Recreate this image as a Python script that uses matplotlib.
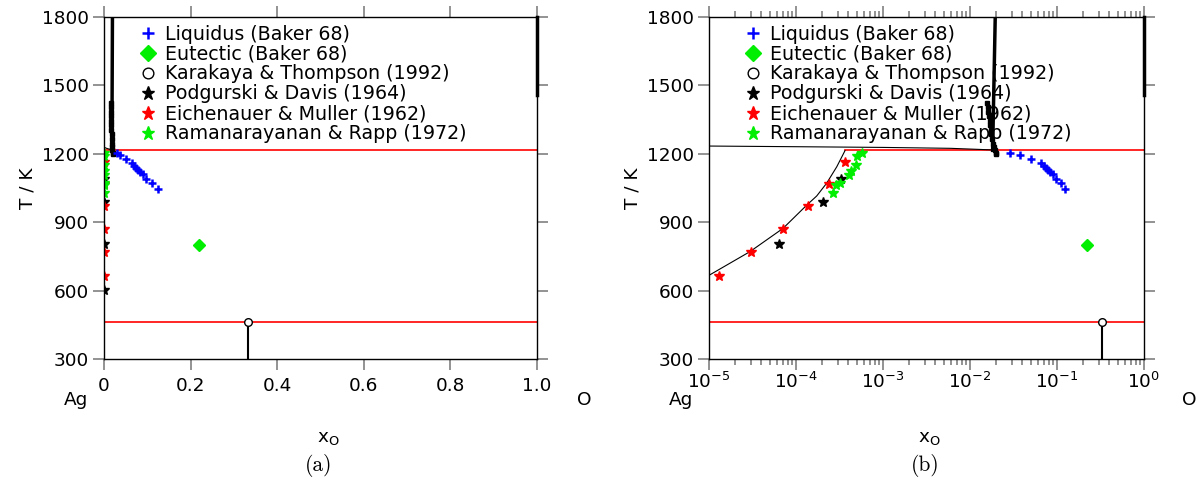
import matplotlib
matplotlib.use('Agg')
import matplotlib.pyplot as plt
from matplotlib.ticker import LogLocator, NullFormatter, LogFormatterSciNotation

plt.rcParams['font.family'] = ['DejaVu Sans']
plt.rcParams['mathtext.fontset'] = 'dejavusans'

FS = 13.3
LFS = 13.7

# Liquidus (Baker 68)
liq_x = [0.029, 0.038, 0.050, 0.065, 0.070, 0.074, 0.078, 0.082, 0.089, 0.098, 0.110, 0.125]
liq_T = [1203, 1194, 1177, 1158, 1148, 1139, 1131, 1122, 1112, 1088, 1070, 1045]
# Eutectic (Baker 68)
eut_x = [0.22]
eut_T = [802]
# Karakaya & Thompson (1992)
kar_x = [0.333]
kar_T = [463]
# Podgurski & Davis (1964)
pod_x = [5e-6, 6.4e-5, 2.06e-4, 3.3e-4]
pod_T = [603, 804, 989, 1089]
# Eichenauer & Muller (1962)
eic_x = [1.3e-5, 3.0e-5, 7.0e-5, 1.37e-4, 2.4e-4, 3.7e-4]
eic_T = [664, 768, 869, 971, 1068, 1164]
# Ramanarayanan & Rapp (1972)
ram_x = [2.64e-4, 2.88e-4, 3.23e-4, 4.1e-4, 4.29e-4, 4.85e-4, 5.0e-4, 5.74e-4]
ram_T = [1029, 1063, 1071, 1107, 1126, 1151, 1192, 1202]

# calculated phase boundaries
sol_x = [1e-5, 2.96e-5, 7.1e-5, 1.33e-4, 1.73e-4, 2.25e-4, 2.94e-4, 3.66e-4]
sol_T = [667, 771, 873, 975, 1015, 1071, 1143, 1214]
liqAg_x = [1e-6, 1e-5, 1.1e-4, 1e-3, 6e-3, 0.0183]
liqAg_T = [1235, 1234, 1231, 1228, 1224, 1217]
gap_x = [0.0182, 0.0195]
gap_T = [1215, 1800]
gap_pts_x = [0.0158, 0.016, 0.0163, 0.0166, 0.0168, 0.017, 0.0173, 0.0176, 0.018, 0.0185, 0.019, 0.0195, 0.0198, 0.020]
gap_pts_T = [1423, 1405, 1385, 1365, 1345, 1325, 1305, 1285, 1265, 1245, 1230, 1215, 1205, 1197]
oside_x = [1.0, 1.0]
oside_T = [1460, 1800]
mono_x = [3.66e-4, 1.0]
mono_T = [1215, 1215]
decomp_x = [1e-7, 1.0]
decomp_T = [463, 463]
ag2o_x = [0.333, 0.333]
ag2o_T = [300, 463]

fig = plt.figure(figsize=(12, 4.86), dpi=100)
ax1 = fig.add_axes([104/1200, 127/486, 433/1200, 342/486])
ax2 = fig.add_axes([709/1200, 127/486, 435/1200, 342/486])

for ax in [ax1, ax2]:
    ax.plot(decomp_x, decomp_T, color='red', lw=1.2)
    ax.plot(mono_x, mono_T, color='red', lw=1.2)
    ax.plot(sol_x, sol_T, color='black', lw=0.8)
    ax.plot(liqAg_x, liqAg_T, color='black', lw=0.8)
    ax.plot(gap_x, gap_T, color='black', lw=2.5)
    ax.plot(gap_pts_x, gap_pts_T, 's', color='black', ms=3)
    ax.plot(oside_x, oside_T, color='black', lw=2.5, clip_on=False)
    ax.plot(ag2o_x, ag2o_T, color='black', lw=1.5)

    ax.plot(liq_x, liq_T, '+', color='blue', ms=6, mew=1.8, label='Liquidus (Baker 68)')
    ax.plot(eut_x, eut_T, 'D', color='#00ee00', ms=6, label='Eutectic (Baker 68)')
    ax.plot(kar_x, kar_T, 'o', mfc='white', mec='black', ms=5.5, mew=1, label='Karakaya & Thompson (1992)')
    ax.plot(pod_x, pod_T, '*', color='black', ms=7, label='Podgurski & Davis (1964)')
    ax.plot(eic_x, eic_T, '*', color='red', ms=7, label='Eichenauer & Muller (1962)')
    ax.plot(ram_x, ram_T, '*', color='#00ee00', ms=7, label='Ramanarayanan & Rapp (1972)')

    ax.set_ylim(300, 1800)
    ax.set_yticks([300, 600, 900, 1200, 1500, 1800])
    ax.set_ylabel('T / K', fontsize=FS, labelpad=4)
    ax.tick_params(which='both', direction='out', top=True, right=True,
                   color='#808080', width=1.2, labelsize=FS)
    ax.tick_params(which='major', length=8)
    ax.tick_params(which='minor', length=4)
    ax.tick_params(axis='y', pad=3)
    for s in ax.spines.values():
        s.set_linewidth(1)
    ax.legend(loc='upper left', bbox_to_anchor=(34/433, 0.978), frameon=False,
              fontsize=LFS, borderaxespad=0, borderpad=0, handlelength=1.0,
              handletextpad=0.4, labelspacing=0.05, markerscale=1.4)

ax1.set_xlim(0, 1)
ax1.set_xticks([0, 0.2, 0.4, 0.6, 0.8, 1.0])
ax1.set_xticklabels(['0', '0.2', '0.4', '0.6', '0.8', '1.0'])
ax1.tick_params(axis='x', pad=5)

ax2.set_xscale('log')
ax2.set_xlim(1e-5, 1)
ax2.xaxis.set_major_locator(LogLocator(base=10, numticks=10))
ax2.xaxis.set_minor_locator(LogLocator(base=10, subs=range(2, 10), numticks=10))
ax2.xaxis.set_major_formatter(LogFormatterSciNotation())
ax2.xaxis.set_minor_formatter(NullFormatter())
ax2.tick_params(axis='x', pad=1)

for xa, xo, xl, xc, lab in [(76, 584, 328, 319, '(a)'), (681, 1189, 929, 925, '(b)')]:
    fig.text(xa/1200, 1 - 400/486, 'Ag', ha='center', va='center', fontsize=FS)
    fig.text(xo/1200, 1 - 400/486, 'O', ha='center', va='center', fontsize=FS)
    fig.text(xl/1200, 1 - 438/486, r'x$_\mathrm{O}$', ha='center', va='center', fontsize=FS)
    fig.text(xc/1200, 1 - 465/486, lab, ha='center', va='center', fontsize=15.5, family='cmr10')

fig.savefig('out.png', dpi=100)
